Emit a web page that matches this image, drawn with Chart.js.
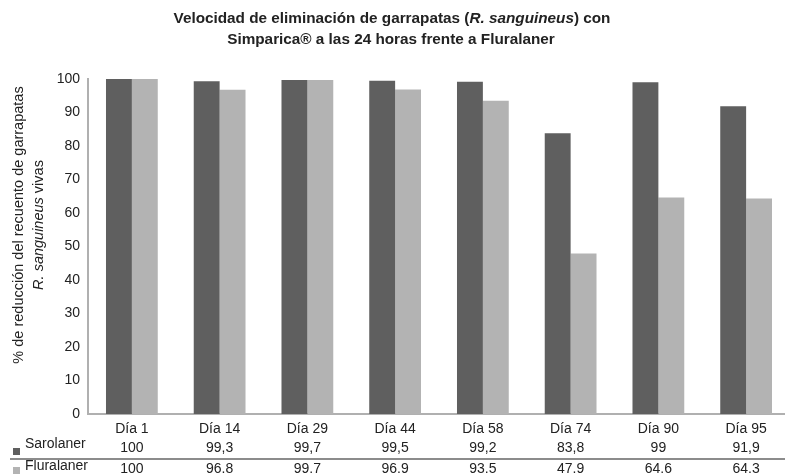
<!DOCTYPE html>
<html>
<head>
<meta charset="utf-8">
<script src="https://cdn.jsdelivr.net/npm/chart.js@4"></script>
<style>
  html, body { margin: 0; padding: 0; background: #fff; overflow: hidden; }
  #wrap { width: 785px; height: 475px; overflow: hidden; }
</style>
</head>
<body>
<div id="wrap"><canvas id="chart" width="800" height="475"></canvas></div>
<script>
// data
const days = ['Día 1', 'Día 14', 'Día 29', 'Día 44', 'Día 58', 'Día 74', 'Día 90', 'Día 95'];
const sarolaner = [100, 99.3, 99.7, 99.5, 99.2, 83.8, 99, 91.9];
const fluralaner = [100, 96.8, 99.7, 96.9, 93.5, 47.9, 64.6, 64.3];
const yTicks = [0, 10, 20, 30, 40, 50, 60, 70, 80, 90, 100];

const FONT = '"Liberation Sans", Arial, sans-serif';
const DARK = '#5f5f5f';
const LIGHT = '#b3b3b3';

// draws a line made of plain / italic pieces, centred on x
function drawPieces(ctx, pieces, x, y, size, weight) {
    const fontFor = p => (p.i ? 'italic ' : '') + weight + ' ' + size + 'px ' + FONT;
    let total = 0;
    pieces.forEach(p => { ctx.font = fontFor(p); total += ctx.measureText(p.t).width; });
    let cx = x - total / 2;
    pieces.forEach(p => {
        ctx.font = fontFor(p);
        ctx.fillText(p.t, cx, y);
        cx += ctx.measureText(p.t).width;
    });
}

const textPlugin = {
    id: 'texts',
    afterDraw(chart) {
        const ctx = chart.ctx;
        const xs = chart.scales.x;
        ctx.save();
        ctx.fillStyle = '#222';
        ctx.textBaseline = 'middle';
        ctx.textAlign = 'left';

        // title
        drawPieces(ctx, [
            { t: 'Velocidad de eliminación de garrapatas (' },
            { t: 'R. sanguineus', i: true },
            { t: ') con' }
        ], 392, 19, 15.3, 'bold');
        drawPieces(ctx, [{ t: 'Simparica® a las 24 horas frente a Fluralaner' }], 391, 40, 15.3, 'bold');

        // y axis title
        ctx.save();
        ctx.translate(19, 225);
        ctx.rotate(-Math.PI / 2);
        drawPieces(ctx, [{ t: '% de reducción del recuento de garrapatas' }], 0, 0, 14.5, 'normal');
        ctx.restore();
        ctx.save();
        ctx.translate(39, 225);
        ctx.rotate(-Math.PI / 2);
        drawPieces(ctx, [{ t: 'R. sanguineus', i: true }, { t: ' vivas' }], 0, 0, 14.5, 'normal');
        ctx.restore();

        // data table
        ctx.font = '14px ' + FONT;
        ctx.fillStyle = DARK;
        ctx.fillRect(13, 448, 7, 7);
        ctx.fillStyle = LIGHT;
        ctx.fillRect(13, 467, 7, 7);
        ctx.fillStyle = '#222';
        ctx.fillText('Sarolaner', 25, 444);
        ctx.fillText('Fluralaner', 25, 466);

        ctx.strokeStyle = '#8c8c8c';
        ctx.lineWidth = 2;
        ctx.beginPath();
        ctx.moveTo(10, 459);
        ctx.lineTo(800, 459);
        ctx.stroke();

        ctx.textAlign = 'center';
        days.forEach((d, i) => {
            const x = xs.getPixelForValue(i);
            ctx.fillText(String(sarolaner[i]).replace('.', ','), x, 448);
            ctx.fillText(String(fluralaner[i]), x, 469);
        });
        ctx.restore();
    }
};

new Chart(document.getElementById('chart'), {
    type: 'bar',
    data: {
        labels: days,
        datasets: [{
            label: 'Sarolaner',
            data: sarolaner,
            backgroundColor: DARK,
            barPercentage: 1,
            categoryPercentage: 0.59
        }, {
            label: 'Fluralaner',
            data: fluralaner,
            backgroundColor: LIGHT,
            barPercentage: 1,
            categoryPercentage: 0.59
        }]
    },
    options: {
        responsive: false,
        animation: false,
        layout: { padding: { top: 79, left: 0, right: 10, bottom: 0 } },
        plugins: {
            legend: { display: false },
            title: { display: false },
            tooltip: { enabled: false }
        },
        scales: {
            y: {
                min: 0,
                max: 100,
                afterBuildTicks: s => { s.ticks = yTicks.map(v => ({ value: v })); },
                afterFit: s => { s.width = 88; },
                grid: { display: false, drawTicks: false },
                border: { display: true, color: '#b0b0b0', width: 2 },
                ticks: { color: '#222', padding: 8, font: { family: FONT, size: 14 } }
            },
            x: {
                afterFit: s => { s.height = 61; },
                grid: { display: false, drawTicks: false },
                border: { display: true, color: '#b0b0b0', width: 2 },
                ticks: { color: '#222', padding: 7, font: { family: FONT, size: 14 } }
            }
        }
    },
    plugins: [textPlugin]
});
</script>
</body>
</html>
